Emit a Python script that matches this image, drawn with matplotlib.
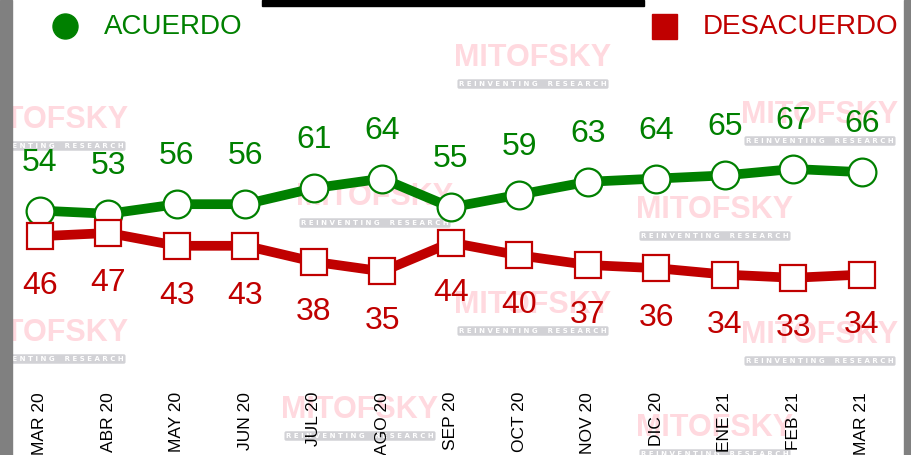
import matplotlib.pyplot as plt
from matplotlib.patches import Rectangle

# data
months = ["MAR 20", "ABR 20", "MAY 20", "JUN 20", "JUL 20", "AGO 20", "SEP 20",
          "OCT 20", "NOV 20", "DIC 20", "ENE 21", "FEB 21", "MAR 21"]
acuerdo = [54, 53, 56, 56, 61, 64, 55, 59, 63, 64, 65, 67, 66]
desacuerdo = [46, 47, 43, 43, 38, 35, 44, 40, 37, 36, 34, 33, 34]

GREEN = "#008000"
RED = "#C00000"
FONT = ["Liberation Sans", "DejaVu Sans"]

W, H = 912, 455
fig = plt.figure(figsize=(W / 100, H / 100), dpi=100)
ax = fig.add_axes([0, 70 / H, 1, 385 / H])
ax.patch.set_alpha(0)
ax.set_xlim(-40 / 68.5, (W - 40) / 68.5)
ax.set_ylim(-0.5, 119.8)
for s in ax.spines.values():
    s.set_visible(False)
ax.set_yticks([])

# watermarks (pixel centers), kept behind the axes
marks = [(533, 58), (50, 120), (375, 197), (715, 210), (820, 115),
         (533, 305), (50, 333), (820, 335), (360, 410), (715, 428)]
for mx, my in marks:
    fig.text(mx / W, 1 - my / H, "MITOFSKY", color="#FFD9DF", fontsize=22,
             fontweight="bold", family=FONT, ha="center", va="center", zorder=-2)
    fig.text(mx / W, 1 - (my + 26) / H, "R E I N V E N T I N G    R E S E A R C H",
             color="white", fontsize=5, fontweight="bold", ha="center", va="center",
             zorder=-2, bbox=dict(boxstyle="round,pad=0.25", fc="#D2D2D6", ec="none"))

x = list(range(len(months)))
ax.plot(x, acuerdo, color=GREEN, lw=7, marker="o", ms=20, mfc="white",
        mec=GREEN, mew=1.6, zorder=3)
ax.plot(x, desacuerdo, color=RED, lw=7, marker="s", ms=19, mfc="white",
        mec=RED, mew=1.6, zorder=3)

for i in x:
    ax.annotate(str(acuerdo[i]), (i, acuerdo[i]), xytext=(0, 48),
                textcoords="offset pixels", ha="center", va="center",
                color=GREEN, fontsize=23, family=FONT)
    ax.annotate(str(desacuerdo[i]), (i, desacuerdo[i]), xytext=(0, -50),
                textcoords="offset pixels", ha="center", va="center",
                color=RED, fontsize=23, family=FONT)

ax.set_xticks(x)
ax.set_xticklabels(months, rotation=90, fontsize=12.5, family=FONT, color="black")
ax.tick_params(axis="x", length=0, pad=5)

# legend
fig.add_artist(plt.Line2D([65 / W], [1 - 26 / H], marker="o", ms=18, color=GREEN,
                          transform=fig.transFigure))
fig.text(104 / W, 1 - 27 / H, "ACUERDO", color=GREEN, fontsize=20, family=FONT,
         ha="left", va="center")
fig.add_artist(plt.Line2D([664 / W], [1 - 26 / H], marker="s", ms=18, color=RED,
                          transform=fig.transFigure))
fig.text(703 / W, 1 - 27 / H, "DESACUERDO", color=RED, fontsize=20, family=FONT,
         ha="left", va="center")

# frame pieces
fig.add_artist(Rectangle((262 / W, 1 - 6 / H), 382 / W, 6 / H, color="black",
                         transform=fig.transFigure))
fig.add_artist(Rectangle((0, 0), 12 / W, 1, color="#808080", transform=fig.transFigure))
fig.add_artist(Rectangle((904 / W, 0), 8 / W, 1, color="#808080", transform=fig.transFigure))

fig.savefig("out.png", dpi=100)
